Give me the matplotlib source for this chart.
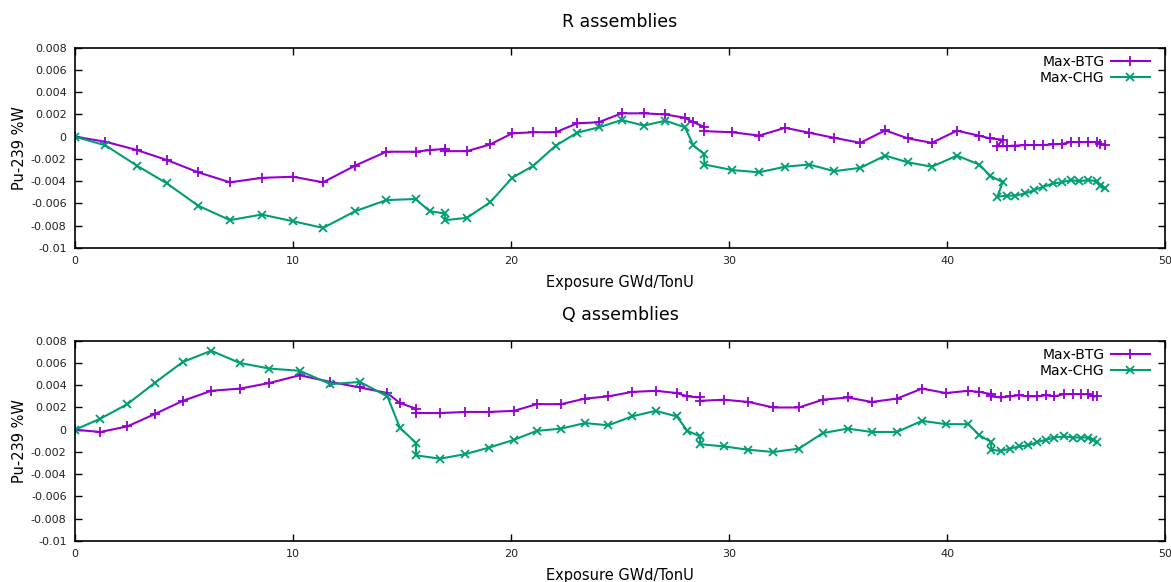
import matplotlib
matplotlib.use('Agg')
import matplotlib.pyplot as plt
from matplotlib.ticker import MultipleLocator, FuncFormatter

# R assemblies
x_r = [0, 1.4, 2.84, 4.22, 5.65, 7.11, 8.57, 10.0, 11.38, 12.85,
       14.28, 15.62, 16.27, 16.97, 16.97, 17.97, 19.04, 20.05, 21.03, 22.05,
       23.03, 24.02, 25.07, 26.1, 27.08, 27.98, 28.36, 28.85, 28.87, 30.15,
       31.38, 32.57, 33.67, 34.82, 36.02, 37.16, 38.2, 39.3, 40.45, 41.47,
       41.97, 42.55, 42.3, 42.74, 43.12, 43.58, 43.99, 44.42, 44.85, 45.26,
       45.67, 46.07, 46.47, 46.87, 47.0, 47.25]
btg_r = [0, -0.00045, -0.0012, -0.0021, -0.0032, -0.0041, -0.0037, -0.0036, -0.0041, -0.0026,
         -0.00135, -0.00135, -0.0012, -0.0011, -0.0013, -0.0013, -0.0007, 0.0003, 0.0004, 0.0004,
         0.0012, 0.0013, 0.0021, 0.0021, 0.002, 0.0017, 0.0013, 0.0009, 0.0005, 0.0004,
         0.0001, 0.0008, 0.00036, -0.0001, -0.00055, 0.00057, -0.00015, -0.00055, 0.00054, 0.00009,
         -0.00015, -0.00027, -0.00087, -0.00084, -0.0008, -0.00075, -0.00075, -0.00075, -0.00069, -0.00066,
         -0.00048, -0.00048, -0.00048, -0.00048, -0.00066, -0.00075]
chg_r = [0, -0.00078, -0.0026, -0.0042, -0.0062, -0.0075, -0.007, -0.0076, -0.0082, -0.0067,
         -0.0057, -0.0056, -0.0067, -0.0069, -0.0075, -0.0073, -0.0059, -0.0037, -0.0026, -0.0008,
         0.00036, 0.00084, 0.0015, 0.001, 0.00144, 0.00084, -0.00078, -0.00156, -0.0025, -0.003,
         -0.0032, -0.0027, -0.0025, -0.0031, -0.0028, -0.0017, -0.0023, -0.0027, -0.0017, -0.0025,
         -0.0035, -0.0041, -0.0054, -0.0053, -0.0053, -0.0051, -0.0048, -0.0045, -0.0042, -0.0041,
         -0.0039, -0.004, -0.0039, -0.004, -0.0044, -0.0046]

# Q assemblies
x_q = [0, 1.17, 2.4, 3.65, 4.95, 6.25, 7.57, 8.91, 10.31, 11.72,
       13.07, 14.33, 14.9, 15.64, 15.64, 16.74, 17.89, 19.0, 20.14, 21.18,
       22.3, 23.39, 24.46, 25.55, 26.63, 27.6, 28.09, 28.67, 28.67, 29.77,
       30.89, 32.03, 33.2, 34.3, 35.44, 36.54, 37.7, 38.85, 39.94, 40.98,
       41.48, 42.02, 42.02, 42.46, 42.89, 43.3, 43.73, 44.14, 44.53, 44.92,
       45.37, 45.77, 46.15, 46.48, 46.67, 46.87]
btg_q = [0, -0.0002, 0.0003, 0.0014, 0.0026, 0.0035, 0.0037, 0.0042, 0.0049, 0.0043,
         0.0038, 0.0033, 0.0024, 0.0019, 0.0015, 0.0015, 0.0016, 0.0016, 0.0017, 0.0023,
         0.0023, 0.0028, 0.003, 0.0034, 0.0035, 0.0033, 0.003, 0.0029, 0.0026, 0.0027,
         0.0025, 0.002, 0.002, 0.0027, 0.0029, 0.0025, 0.0028, 0.0037, 0.0033, 0.0035,
         0.0034, 0.0032, 0.003, 0.0029, 0.003, 0.0031, 0.003, 0.003, 0.0031, 0.003,
         0.0032, 0.0032, 0.0032, 0.0032, 0.003, 0.003]
chg_q = [0, 0.001, 0.0023, 0.0042, 0.0061, 0.0071, 0.006, 0.0055, 0.0053, 0.0041,
         0.0043, 0.003, 0.0002, -0.0012, -0.0023, -0.0026, -0.0022, -0.0016, -0.0009, -0.0001,
         0.0001, 0.0006, 0.0004, 0.0012, 0.0017, 0.0012, -0.0001, -0.0006, -0.0013, -0.0015,
         -0.0018, -0.002, -0.0017, -0.0003, 0.0001, -0.0002, -0.0002, 0.0008, 0.0005, 0.0005,
         -0.0005, -0.0011, -0.0018, -0.0019, -0.0017, -0.0015, -0.0014, -0.0011, -0.0009, -0.0007,
         -0.0006, -0.0007, -0.0007, -0.0007, -0.0009, -0.0011]

panels = [('R assemblies', x_r, btg_r, chg_r),
          ('Q assemblies', x_q, btg_q, chg_q)]

purple = '#9400d3'
green = '#009e73'

fig = plt.figure(figsize=(11.71, 5.82), dpi=100)
axes = [fig.add_axes([0.064, 0.574, 0.931, 0.344]),
        fig.add_axes([0.064, 0.0705, 0.931, 0.344])]

fmt = FuncFormatter(lambda v, pos: '%g' % round(v, 6))

for ax, (title, x, btg, chg) in zip(axes, panels):
    ax.plot(x, btg, color=purple, marker='+', ms=7, mew=1.3, lw=1.5, label='Max-BTG')
    ax.plot(x, chg, color=green, marker='x', ms=5.5, mew=1.3, lw=1.5, label='Max-CHG')
    ax.set_xlim(0, 50)
    ax.set_ylim(-0.01, 0.008)
    ax.xaxis.set_major_locator(MultipleLocator(10))
    ax.yaxis.set_major_locator(MultipleLocator(0.002))
    ax.yaxis.set_major_formatter(fmt)
    ax.tick_params(direction='in', length=5, width=1, top=True, right=True,
                   labelsize=8, color='black', labelcolor='#222222')
    ax.tick_params(axis='y', pad=6)
    ax.tick_params(axis='x', pad=6)
    for s in ax.spines.values():
        s.set_linewidth(1.2)
        s.set_color('black')
    ax.set_title(title, fontsize=12.5, pad=15)
    ax.set_xlabel('Exposure GWd/TonU', fontsize=10.5, labelpad=6)
    ax.set_ylabel('Pu-239 %W', fontsize=10.5, labelpad=3)
    ax.legend(loc='upper right', bbox_to_anchor=(0.991, 0.992), frameon=False,
              markerfirst=False, fontsize=10, handlelength=2.8, handletextpad=0.45,
              labelspacing=0.15, borderaxespad=0)

fig.savefig('out.png', dpi=100)
